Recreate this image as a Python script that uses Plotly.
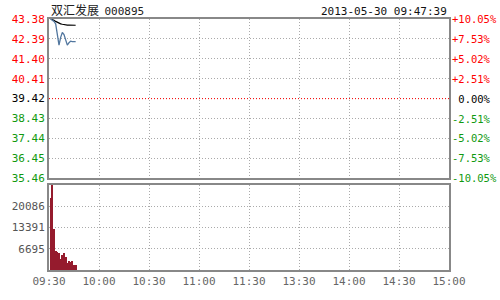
import plotly.graph_objects as go

# ---------------- data ----------------
stock_name = "双汇发展"
stock_code = "000895"
timestamp = "2013-05-30 09:47:39"

times = ["09:31", "09:32", "09:33", "09:34", "09:35", "09:36", "09:37", "09:38",
         "09:39", "09:40", "09:41", "09:42", "09:43", "09:44", "09:45", "09:46"]
price = [43.38, 43.33, 43.26, 43.14, 42.47, 42.08, 42.47, 42.71,
         42.61, 42.28, 42.08, 42.20, 42.28, 42.26, 42.26, 42.26]
avg_price = [43.38, 43.36, 43.31, 43.26, 43.21, 43.17, 43.14, 43.12,
             43.10, 43.09, 43.08, 43.08, 43.07, 43.07, 43.07, 43.07]
volume = [22800, 26780, 12870, 6090, 5570, 5260, 3440, 4560,
          5480, 3960, 2220, 2740, 2650, 2950, 1520, 1520]

prev_close = 39.42
price_ticks = [43.38, 42.39, 41.40, 40.41, 39.42, 38.43, 37.44, 36.45, 35.46]
pct_labels = ["+10.05%", "+7.53%", "+5.02%", "+2.51%", "0.00%",
              "-2.51%", "-5.02%", "-7.53%", "-10.05%"]
vol_ticks = [6695, 13391, 20086]
vol_max = 26781
x_tick_labels = ["09:30", "10:00", "10:30", "11:00", "11:30",
                 "13:30", "14:00", "14:30", "15:00"]

# ---------------- helpers ----------------
def minute_index(t):
    h, m = map(int, t.split(":"))
    mins = h * 60 + m
    if mins <= 11 * 60 + 30:
        return mins - (9 * 60 + 30)
    return mins - 13 * 60 + 120

x_idx = [minute_index(t) for t in times]
x_tick_vals = [30 * i for i in range(len(x_tick_labels))]

RED = "#ff0000"
GREEN = "#109910"
MONO = "DejaVu Sans Mono"
FS = 11

def tick_color(v):
    if abs(v - prev_close) < 1e-9:
        return "#000000"
    return RED if v > prev_close else GREEN

left_text = [f'<span style="color:{tick_color(v)}">{v:.2f}</span>' for v in price_ticks]

fig = go.Figure()

fig.add_trace(go.Scatter(x=x_idx, y=avg_price, mode="lines",
                         line=dict(color="#000000", width=1.2),
                         xaxis="x", yaxis="y", showlegend=False))
fig.add_trace(go.Scatter(x=x_idx, y=price, mode="lines",
                         line=dict(color="#52779f", width=1.3),
                         xaxis="x", yaxis="y", showlegend=False))
fig.add_trace(go.Bar(x=x_idx, y=volume, marker=dict(color="#951b2d", line=dict(width=0)),
                     width=0.55, xaxis="x2", yaxis="y2", showlegend=False))

GRID = "#aaaaaa"
BORDER = "#888888"
axis_common = dict(showline=True, linecolor=BORDER, linewidth=2, mirror=True,
                   showgrid=True, gridcolor=GRID, gridwidth=1, griddash="1px,2px",
                   zeroline=False, ticks="", fixedrange=True)

H = 260.0
fig.update_layout(
    width=500, height=300,
    margin=dict(l=46, r=51, t=19, b=21, pad=0),
    paper_bgcolor="white", plot_bgcolor="white",
    font=dict(family=MONO, size=FS, color="#555555"),
    bargap=0,
    xaxis=dict(domain=[0, 1], range=[0, 240], tickvals=x_tick_vals,
               showticklabels=False, anchor="y", **axis_common),
    yaxis=dict(domain=[95 / H, 1], range=[price_ticks[-1], price_ticks[0]],
               tickvals=price_ticks, ticktext=left_text, anchor="x", **axis_common),
    xaxis2=dict(domain=[0, 1], range=[0, 240], tickvals=x_tick_vals,
                ticktext=x_tick_labels, anchor="y2",
                tickfont=dict(family=MONO, size=FS, color="#666666"), **axis_common),
    yaxis2=dict(domain=[0, 88 / H], range=[0, vol_max], tickvals=vol_ticks,
                ticktext=[str(v) for v in vol_ticks], anchor="x2",
                tickfont=dict(family=MONO, size=FS, color="#555555"), **axis_common),
)

# previous-close dotted red line
fig.add_shape(type="line", xref="x", yref="y", x0=0, x1=240, y0=prev_close, y1=prev_close,
              line=dict(color=RED, width=1, dash="1px,2px"), layer="between")

# right-side percentage labels (sign column kept aligned)
for v, lab in zip(price_ticks, pct_labels):
    shown = lab if lab[0] in "+-" else "&nbsp;" + lab
    fig.add_annotation(xref="paper", yref="y", x=1, y=v, text=shown, showarrow=False,
                       xanchor="left", yanchor="middle", xshift=1,
                       font=dict(family=MONO, size=10.5, color=tick_color(v)))

# title and timestamp
fig.add_annotation(xref="paper", yref="paper", x=0, y=1, xanchor="left", yanchor="bottom",
                   showarrow=False, yshift=-1,
                   text=f'{stock_name}&nbsp; <span style="font-family:{MONO};font-size:{FS}px">{stock_code}</span>',
                   font=dict(family="Noto Sans CJK SC", size=12, color="#222222"))
fig.add_annotation(xref="paper", yref="paper", x=1, y=1, xanchor="right", yanchor="bottom",
                   showarrow=False, yshift=-1, text=timestamp,
                   font=dict(family=MONO, size=FS, color="#111111"))

fig.write_html("out.html")
